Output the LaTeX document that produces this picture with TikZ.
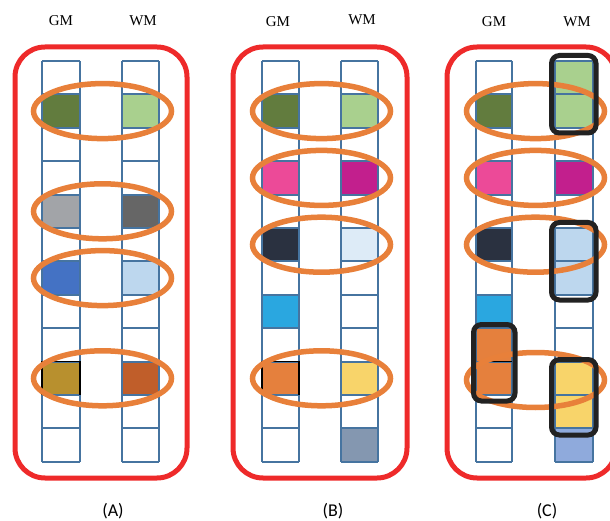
\documentclass[tikz,border=0pt]{standalone}
\usepackage{fontspec}
\setmainfont{Liberation Serif}
\newfontfamily\capfont{Carlito}
\definecolor{cOlive}{HTML}{627C3E}
\definecolor{cLgreen}{HTML}{A9D08E}
\definecolor{cGrayA}{HTML}{A2A4A8}
\definecolor{cGrayB}{HTML}{666666}
\definecolor{cBlue}{HTML}{4472C4}
\definecolor{cLblue}{HTML}{BDD7EE}
\definecolor{cGold}{HTML}{B8902E}
\definecolor{cRust}{HTML}{C05E2A}
\definecolor{cPink}{HTML}{EC4A98}
\definecolor{cMagenta}{HTML}{C21F8D}
\definecolor{cDark}{HTML}{2A3140}
\definecolor{cVlblue}{HTML}{DDEBF7}
\definecolor{cSky}{HTML}{2AA7E0}
\definecolor{cOrange}{HTML}{E5803D}
\definecolor{cYellow}{HTML}{F8D46A}
\definecolor{cSlate}{HTML}{8497B0}
\definecolor{cPeri}{HTML}{8FAADC}
\definecolor{cGrid}{HTML}{4674A0}
\definecolor{cRing}{HTML}{E8803A}
\definecolor{cRed}{HTML}{EE2A2A}
\definecolor{cBox}{HTML}{222222}
\tikzset{
  panelbox/.style={draw=cRed,line width=5pt,rounded corners=30pt},
  gridline/.style={draw=cGrid,line width=2pt},
  ring/.style={draw=cRing,line width=5.5pt},
  edgeline/.style={draw=black,line width=1.6pt},
  groupbox/.style={draw=cBox,line width=5pt,rounded corners=8pt},
  headtext/.style={font=\fontsize{15}{18}\selectfont},
  captext/.style={font=\capfont\fontsize{18}{21}\selectfont}
}
\newcommand\RT[1]{61+#1*33.4}
\newcommand\cellfill[4]{\fill[#4] (#1,{\RT{#3}}) rectangle (#2,{\RT{#3}+33.4});}
\newcommand\gridcol[2]{%
  \foreach \r in {0,...,12} {\draw[gridline] (#1,{\RT{\r}}) -- (#2,{\RT{\r}});}
  \draw[gridline] (#1,61) -- (#1,{\RT{12}});
  \draw[gridline] (#2,61) -- (#2,{\RT{12}});}
\newcommand\ringat[2]{\draw[ring] (#1,{\RT{#2}+16.7}) ellipse [x radius=69pt, y radius=27.5pt];}
\begin{document}
\begin{tikzpicture}[x=1pt,y=-1pt]
\useasboundingbox (0,0) rectangle (610,521);
\clip (0,0) rectangle (610,521);
% panel frames
\draw[panelbox] (15,47) rectangle (187,478);
\draw[panelbox] (233,47) rectangle (407,478);
\draw[panelbox] (447,47) rectangle (616,478);
% headers
\node[headtext] (gmA) at (61,21) {GM};
\node[headtext] (wmA) at (143,21) {WM};
\node[headtext] (gmB) at (278,22) {GM};
\node[headtext] (wmB) at (362,20) {WM};
\node[headtext] (gmC) at (494,22) {GM};
\node[headtext] (wmC) at (577,22) {WM};
% captions
\node[captext] (capA) at (113,511) {(A)};
\node[captext] (capB) at (333,511) {(B)};
\node[captext] (capC) at (547,511) {(C)};
% panel A cells
\cellfill{42}{80}{1}{cOlive}
\cellfill{122}{159}{1}{cLgreen}
\cellfill{42}{80}{4}{cGrayA}
\cellfill{122}{159}{4}{cGrayB}
\cellfill{42}{80}{6}{cBlue}
\cellfill{122}{159}{6}{cLblue}
\cellfill{42}{80}{9}{cGold}
\cellfill{122}{159}{9}{cRust}
\gridcol{42}{80}
\gridcol{122}{159}
\draw[edgeline] (42,{\RT{10}}) -- (42,{\RT{9}}) -- (80,{\RT{9}}) -- (80,{\RT{10}});
% panel B cells
\cellfill{262}{299}{1}{cOlive}
\cellfill{341}{378}{1}{cLgreen}
\cellfill{262}{299}{3}{cPink}
\cellfill{341}{378}{3}{cMagenta}
\cellfill{262}{299}{5}{cDark}
\cellfill{341}{378}{5}{cVlblue}
\cellfill{262}{299}{7}{cSky}
\cellfill{262}{299}{9}{cOrange}
\cellfill{341}{378}{9}{cYellow}
\cellfill{341}{378}{11}{cSlate}
\gridcol{262}{299}
\gridcol{341}{378}
\draw[edgeline] (262,{\RT{10}}) -- (262,{\RT{9}}) -- (299,{\RT{9}}) -- (299,{\RT{10}});
% panel C cells
\cellfill{476}{512}{1}{cOlive}
\cellfill{555}{593}{0}{cLgreen}
\cellfill{555}{593}{1}{cLgreen}
\cellfill{476}{512}{3}{cPink}
\cellfill{555}{593}{3}{cMagenta}
\cellfill{476}{512}{5}{cDark}
\cellfill{555}{593}{5}{cLblue}
\cellfill{555}{593}{6}{cLblue}
\cellfill{476}{512}{7}{cSky}
\cellfill{476}{512}{8}{cOrange}
\cellfill{476}{512}{9}{cOrange}
\cellfill{555}{593}{9}{cYellow}
\cellfill{555}{593}{10}{cYellow}
\cellfill{555}{593}{11}{cPeri}
\gridcol{476}{512}
\gridcol{555}{593}
\draw[edgeline] (485,{\RT{9}}) -- (512,{\RT{9}});
% rings
\ringat{102.5}{1}
\ringat{102.5}{4}
\ringat{102.5}{6}
\ringat{102.5}{9}
\ringat{321.5}{1}
\ringat{321.5}{3}
\ringat{321.5}{5}
\ringat{321.5}{9}
\ringat{535.5}{1}
\ringat{535.5}{3}
\ringat{535.5}{5}
\draw[ring] (535.5,380) ellipse [x radius=69pt, y radius=27.5pt];
% group boxes in C
\draw[groupbox] (551.5,55.5) rectangle (596,133);
\draw[groupbox] (551.5,222.5) rectangle (596,300);
\draw[groupbox] (551.5,359.5) rectangle (596,435);
\draw[groupbox] (473.5,324.5) rectangle (515,401);
\end{tikzpicture}
\end{document}
